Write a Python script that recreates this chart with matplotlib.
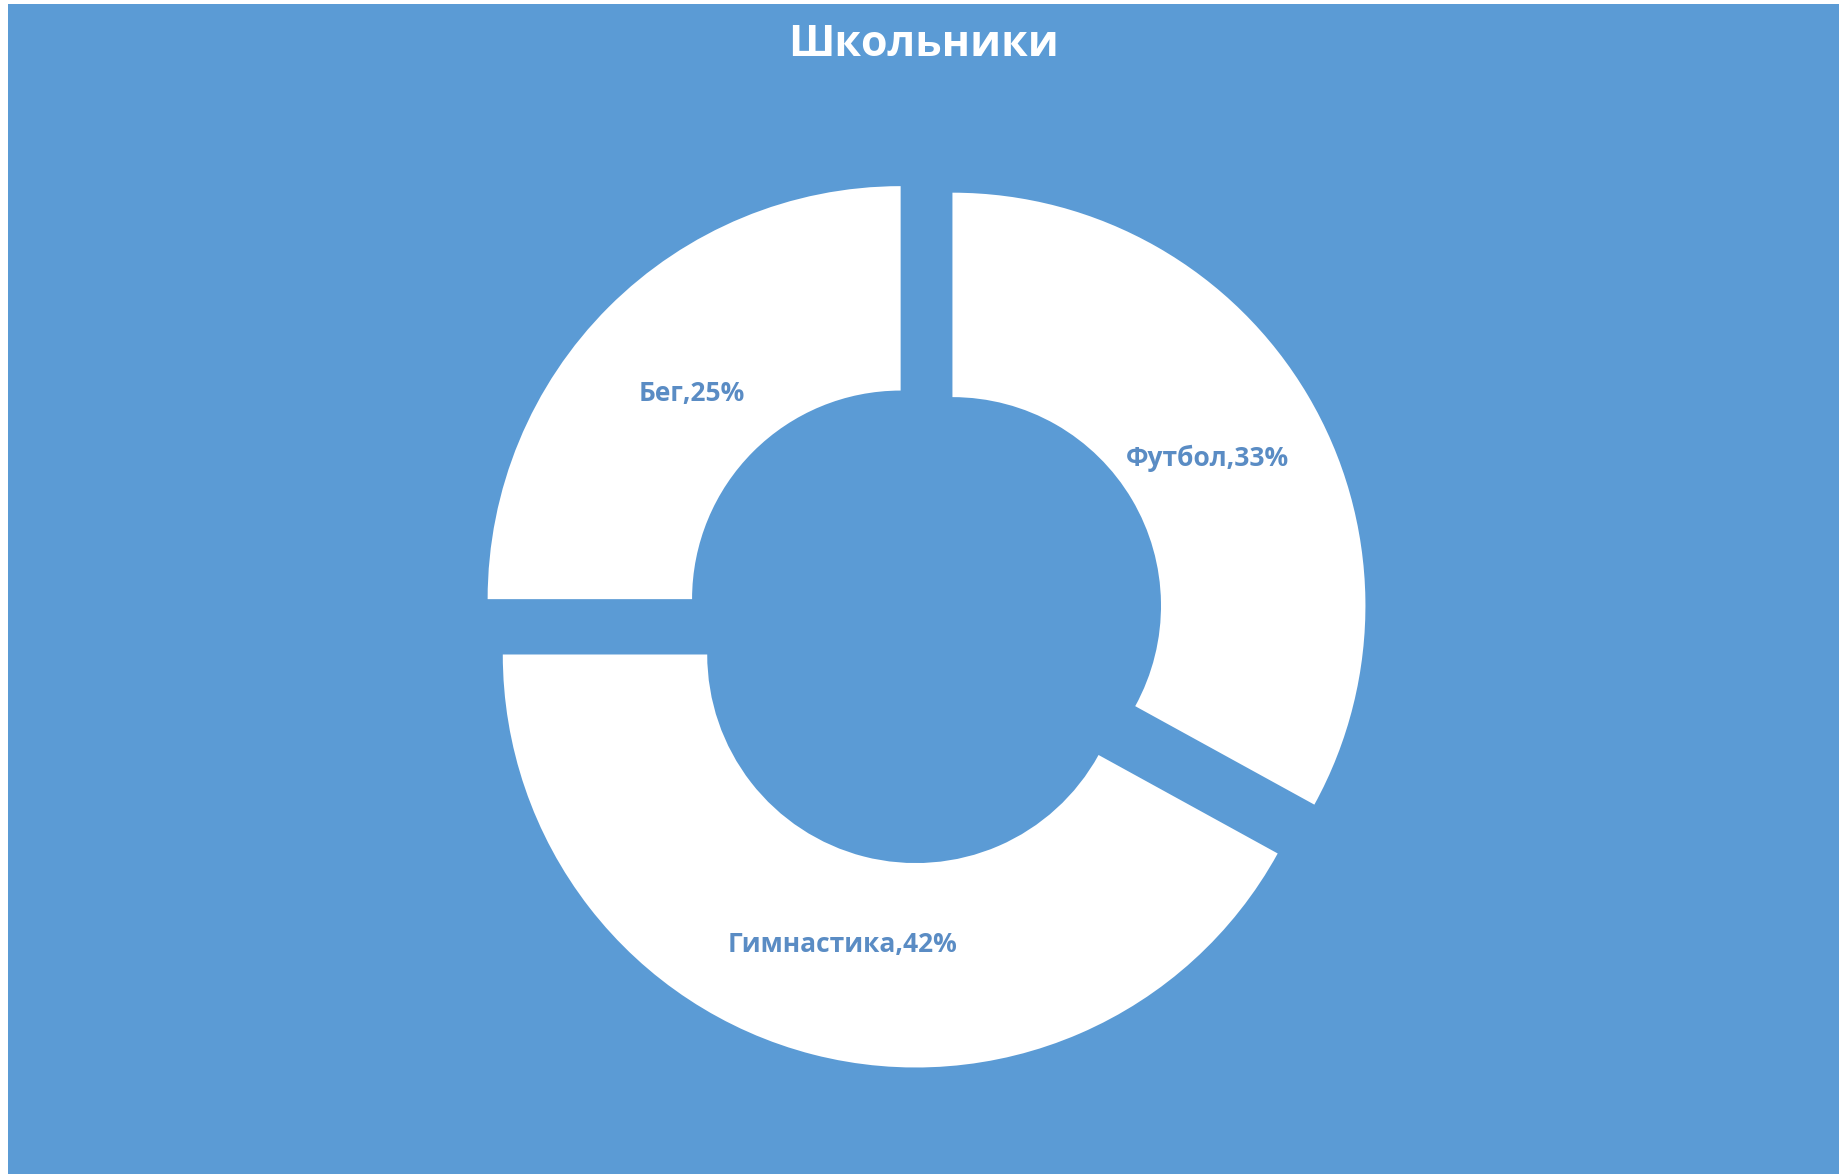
import matplotlib
matplotlib.use('Agg')
import matplotlib.pyplot as plt
from matplotlib.patches import Rectangle
import numpy as np

# Данные диаграммы
categories = ['Футбол', 'Гимнастика', 'Бег']
shares = [33, 42, 25]
title = 'Школьники'

bg = '#5B9BD5'
label_color = '#5A8CC4'

W, H = 1839, 1174
R_PX = 413            # внешний радиус кольца в пикселях
CX, CY = 924, 622.5   # центр кольца (от левого верхнего угла)

fig = plt.figure(figsize=(W / 100, H / 100), dpi=100, facecolor='white')
# синяя подложка с тонкой белой полоской слева и сверху
fig.patches.append(Rectangle((8 / W, 0), 1 - 8 / W, 1 - 4 / H,
                             transform=fig.transFigure, facecolor=bg,
                             edgecolor='none', zorder=-5))

ax = fig.add_axes([0, 0, 1, 1])
ax.set_facecolor('none')
ax.set_zorder(2)

labels = [f'{c},{v}%' for c, v in zip(categories, shares)]
wedges, _ = ax.pie(shares, radius=1.0, startangle=90, counterclock=False,
                   explode=[0.08] * len(shares),
                   colors=['white'] * len(shares),
                   wedgeprops=dict(width=0.495, edgecolor='none'))

# подписи посередине кольца каждого сектора
for w, lab in zip(wedges, labels):
    ang = np.deg2rad((w.theta1 + w.theta2) / 2)
    x0, y0 = w.center
    ax.text(x0 + 0.716 * np.cos(ang), y0 + 0.716 * np.sin(ang) - 0.008, lab,
            ha='center', va='center', color=label_color,
            fontsize=19, fontweight='bold', family=['Open Sans', 'DejaVu Sans'])

ax.set_xlim(-CX / R_PX, (W - CX) / R_PX)
ax.set_ylim(-(H - CY) / R_PX, CY / R_PX)
ax.set_aspect('equal')
ax.axis('off')

fig.text(CX / W, 1 - 45 / H, title, ha='center', va='center',
         color='white', fontsize=31, fontweight='bold',
         family=['Open Sans', 'DejaVu Sans'], zorder=3)

fig.savefig('out.png', dpi=100, facecolor=fig.get_facecolor())
